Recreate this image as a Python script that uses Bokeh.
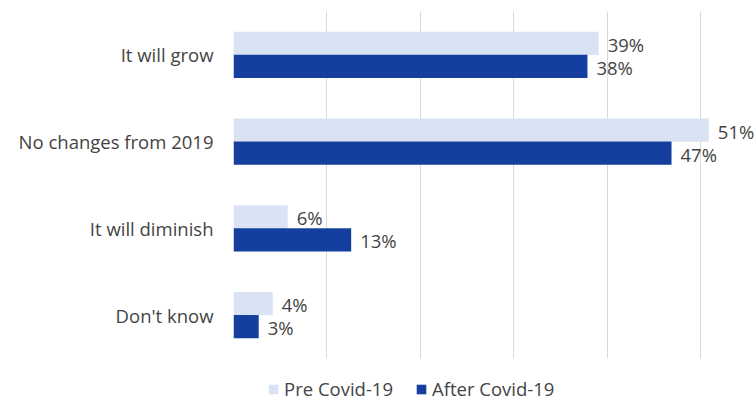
from bokeh.plotting import figure
from bokeh.models import ColumnDataSource, Range1d, FixedTicker, Legend, LegendItem
from bokeh.embed import file_html
from bokeh.resources import INLINE
from bokeh.core.properties import value

categories = ["It will grow", "No changes from 2019", "It will diminish", "Don't know"]
pre_covid = [39.1, 50.9, 5.8, 4.2]
after_covid = [37.9, 46.9, 12.6, 2.7]
series_names = ["Pre Covid-19", "After Covid-19"]
grid_ticks = [0, 10, 20, 30, 40, 50]

FONT = "Open Sans"
FS = "18.5px"
TXT = "#444444"
LIGHT = "#DAE3F3"
DARK = "#143F9E"
BAR_H = 0.267
DODGE = 0.133

n = len(categories)
pos = [n - 1 - i for i in range(n)]  # top-to-bottom order of the categories

src = ColumnDataSource(dict(
    pos=pos,
    pre_y=[y + DODGE for y in pos],
    after_y=[y - DODGE for y in pos],
    pre=pre_covid,
    after=after_covid,
    pre_lbl=[f"{v:.0f}%" for v in pre_covid],
    after_lbl=[f"{v:.0f}%" for v in after_covid],
))

p = figure(width=756, height=400, output_backend="svg", toolbar_location=None,
           x_range=Range1d(0, 56.0), y_range=Range1d(-0.984, n - 0.5))
p.min_border_left = 233
p.min_border_right = 0
p.min_border_top = 11
p.min_border_bottom = 0
p.outline_line_color = None
p.background_fill_color = "white"
p.border_fill_color = "white"

r_pre = p.hbar(y="pre_y", right="pre", left=0, height=BAR_H,
               source=src, fill_color=LIGHT, line_color=None)
r_after = p.hbar(y="after_y", right="after", left=0, height=BAR_H,
                 source=src, fill_color=DARK, line_color=None)

p.text(x="pre", y="pre_y", text="pre_lbl", source=src,
       x_offset=9, y_offset=1, text_align="left", text_baseline="middle",
       text_font=value(FONT), text_font_size=FS, text_color=TXT)
p.text(x="after", y="after_y", text="after_lbl", source=src,
       x_offset=9, y_offset=1, text_align="left", text_baseline="middle",
       text_font=value(FONT), text_font_size=FS, text_color=TXT)

p.xaxis.visible = False
p.xgrid.ticker = FixedTicker(ticks=grid_ticks)
p.xgrid.cross_bounds = (-0.5, n - 0.5)
p.xgrid.grid_line_color = "#d9d9d9"
p.xgrid.grid_line_width = 1
p.ygrid.grid_line_color = None

ax = p.yaxis[0]
ax.ticker = FixedTicker(ticks=pos)
ax.major_label_overrides = {y: c for y, c in zip(pos, categories)}
ax.axis_line_color = None
ax.major_tick_line_color = None
ax.minor_tick_line_color = None
ax.major_tick_out = 0
ax.major_tick_in = 0
ax.major_label_standoff = 20
ax.major_label_text_font = FONT
ax.major_label_text_font_size = FS
ax.major_label_text_color = TXT

legend = Legend(items=[LegendItem(label=series_names[0], renderers=[r_pre]),
                       LegendItem(label=series_names[1], renderers=[r_after])],
                orientation="horizontal", location=(34, -1),
                glyph_width=12, glyph_height=12, label_standoff=5, spacing=22,
                padding=0, margin=0, border_line_color=None, background_fill_alpha=0,
                label_text_font=FONT, label_text_font_size=FS, label_text_color=TXT,
                label_height=20)
p.add_layout(legend, "center")

open("out.html", "w").write(file_html(p, INLINE))
